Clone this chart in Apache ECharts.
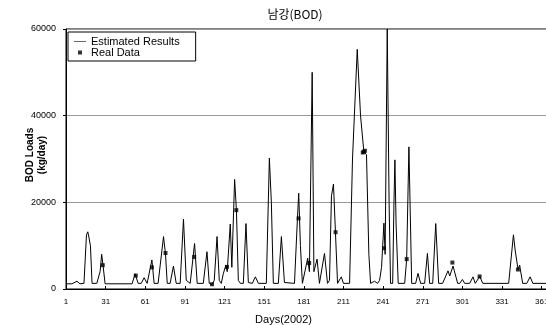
<!DOCTYPE html>
<html>
<head>
<meta charset="utf-8">
<script src="https://cdn.jsdelivr.net/npm/echarts@6/dist/echarts.min.js"></script>
<style>
  html, body { margin: 0; padding: 0; background: #fff; }
  #myChart { width: 546px; height: 325px; }
</style>
</head>
<body>
<div id="myChart"></div>
<script>
// estimated daily BOD loads (kg/day) at its turning points
var estDays = [1, 5.5, 9.3, 11.6, 14.6, 16.5, 17.5, 18.3, 19.5, 20.7, 24.3, 26.8, 28, 29, 30.6,
  51, 53.3, 55.6, 57.9, 60.1, 62.4, 63.9, 66, 67.7, 70.7, 74.8, 76.3, 77.6, 79.8, 82.3, 84.4,
  87.4, 89.9, 92, 95, 98.3, 100.3, 104.9, 107.7, 109.4, 111.5, 112.4, 113.2, 115.3, 117, 118.5,
  120, 122, 123, 125.3, 126.5, 128.6, 130, 131.4, 133, 135.2, 137.2, 139, 142, 144.3, 146.6,
  152.6, 154.9, 156.4, 157.9, 161.7, 164, 166.3, 173.9, 176.1, 177.1, 178.4, 179.9,
  181.4, 183.9, 185.2, 187.3, 188.6, 191, 192.8, 194.3, 196.6, 198.9, 200.4, 201.9, 203.4, 204.9, 206.5,
  208, 209.3, 211, 215.6, 217.8, 221.4, 223.9, 226.4, 228.4, 230.2, 231.5, 234.5, 236.8, 238.3,
  239.8, 241.6, 242.5, 244.1, 245.5, 246.6, 248.2, 249.2, 249.9, 250.8, 252.4,
  257.3, 258.8, 260.5, 262.6, 265.6, 267.4, 269.4, 272.4, 274.5, 276.2, 278.5, 280.8, 283,
  286, 290.1, 291.4, 293.9, 295.9, 297.4, 299, 301, 302.7, 306.5, 309, 310.7, 312.2, 314.1, 316.4,
  336, 339.6, 340.9, 343.1, 344.3, 346.6, 349.7, 352.2, 354.3, 365];
var estLoads = [1200, 1200, 1800, 1200, 1300, 12500, 13200, 12000, 10000, 1300, 1300, 4000, 8000, 5500, 1200,
  1200, 3500, 1300, 1300, 2600, 1300, 1300, 6700, 1300, 1300, 12100, 8000, 1300, 1300, 5300, 1300,
  1300, 16100, 2000, 1300, 10500, 1300, 1300, 8600, 1300, 1000, 1300, 2000, 12100, 2000, 1300,
  3500, 5500, 4000, 15000, 5000, 25300, 18000, 2000, 1300, 1300, 15100, 1500, 1300, 2800, 1300,
  1300, 30200, 20000, 1300, 1300, 12100, 1500, 1300, 16000, 22100, 10000, 1300,
  1300, 7100, 4000, 50000, 4000, 6900, 1300, 1300, 8200, 1300, 2000, 21500, 24200, 13100, 1300,
  1300, 2800, 1300, 1300, 30000, 55300, 40000, 31700, 31000, 8000, 1300, 1800, 1300, 2000,
  5000, 15200, 8000, 60000, 20000, 1300, 1300, 20000, 29800, 15000, 1300,
  1300, 6900, 32800, 1300, 1300, 3600, 1300, 1300, 8200, 1300, 1300, 15100, 1300,
  1300, 4200, 3000, 5300, 3000, 1300, 1300, 2200, 1300, 1300, 2800, 1300, 1500, 2900, 1300,
  1300, 12500, 9000, 4500, 5500, 1300, 1300, 2800, 1300, 1300];

// measured BOD loads
var realDays = [28.8, 53.8, 66, 76.3, 98, 111.5, 122.8, 129.9, 177, 185, 205,
  225.6, 226.4, 227.2, 241.6, 258.8, 293.4, 314, 343];
var realLoads = [5500, 3100, 5000, 8300, 7400, 1100, 5100, 18200, 16300, 6000, 13100,
  31500, 31700, 31900, 9400, 6900, 6100, 2900, 4500];

var xTicks = { min: 1, max: 365, interval: 30 };
var yTicks = { min: 0, max: 60000, interval: 20000 };

var estData = estDays.map(function (d, i) { return [d, estLoads[i]]; });
var realData = realDays.map(function (d, i) { return [d, realLoads[i]]; });

var myChart = echarts.init(document.getElementById('myChart'));
var font = 'Liberation Sans, Arial, sans-serif';

var option = {
  animation: false,
  backgroundColor: '#fff',
  title: {
    text: '남강(BOD)',
    left: 290, top: 3,
    textAlign: 'center',
    textStyle: { fontFamily: 'Noto Sans CJK KR', fontSize: 12, fontWeight: 'normal', color: '#000' }
  },
  legend: {
    left: 68, top: 32,
    orient: 'vertical',
    backgroundColor: '#fff',
    borderColor: '#000', borderWidth: 1, borderRadius: 0,
    padding: [4, 16, 3, 6],
    itemGap: 0, itemWidth: 12, itemHeight: 4,
    symbolKeepAspect: true,
    textStyle: { fontFamily: font, fontSize: 11, color: '#000' },
    data: [
      { name: 'Estimated Results', icon: 'path://M0,0h12v0.6h-12z' },
      { name: 'Real Data', icon: 'path://M0,0h4v4h-4z' }
    ]
  },
  grid: {
    left: 66, right: -1, top: 29, bottom: 36,
    outerBoundsMode: 'none',
    containLabel: false,
    show: true, borderColor: '#000', borderWidth: 1
  },
  xAxis: {
    type: 'value',
    min: xTicks.min, max: xTicks.max, interval: xTicks.interval,
    name: 'Days(2002)', nameLocation: 'middle', nameGap: 25,
    nameTextStyle: { fontFamily: font, fontSize: 11, color: '#000', padding: [0, 46, 0, 0] },
    axisLine: { lineStyle: { color: '#000' } },
    axisTick: { inside: true, length: 3, lineStyle: { color: '#000' } },
    axisLabel: { fontFamily: font, fontSize: 8, color: '#000', margin: 9, showMaxLabel: false },
    splitLine: { show: false }
  },
  yAxis: {
    type: 'value',
    min: yTicks.min, max: yTicks.max, interval: yTicks.interval,
    name: 'BOD Loads\n(kg/day)', nameLocation: 'middle', nameGap: 18, nameRotate: 90,
    nameMoveOverlap: false,
    nameTextStyle: { fontFamily: font, fontSize: 10, fontWeight: 'bold', color: '#000', lineHeight: 12, padding: [0, 0, 0, 8] },
    axisLine: { show: true, lineStyle: { color: '#000' } },
    axisTick: { show: true, length: 3, lineStyle: { color: '#000' } },
    axisLabel: {
      fontFamily: font, fontSize: 9, color: '#000', margin: 10,
      formatter: function (v) { return String(v); }
    },
    splitLine: { show: true, lineStyle: { color: '#999', width: 1 } }
  },
  series: [
    {
      name: 'Estimated Results',
      type: 'line',
      data: estData,
      symbol: 'none',
      lineStyle: { color: '#000', width: 1 },
      itemStyle: { color: '#000' }
    },
    {
      name: 'Real Data',
      type: 'scatter',
      data: realData,
      symbol: 'rect',
      symbolSize: 4,
      itemStyle: { color: '#000' }
    }
  ]
};
myChart.setOption(option);
</script>
</body>
</html>
